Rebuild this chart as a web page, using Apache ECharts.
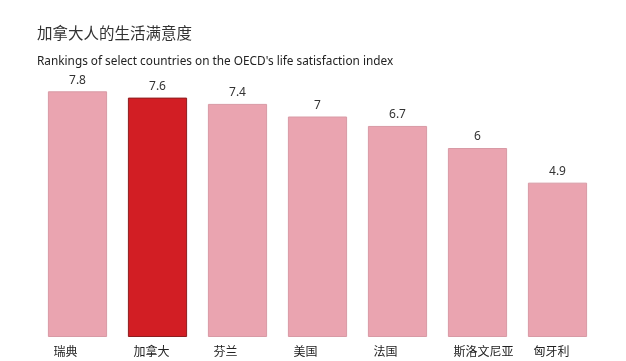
<!DOCTYPE html>
<html><head><meta charset="utf-8">
<script src="https://cdn.jsdelivr.net/npm/echarts@6/dist/echarts.min.js"></script>
<style>html,body{margin:0;padding:0;background:#fff}#c{width:626px;height:361px}</style>
</head><body><div id="c"></div>
<script>
const categories = ['瑞典','加拿大','芬兰','美国','法国','斯洛文尼亚','匈牙利'];
const values = [7.8, 7.6, 7.4, 7, 6.7, 6, 4.9];
const highlight = '加拿大';
const chart = echarts.init(document.getElementById('c'));
chart.setOption({
  backgroundColor: '#fff',
  animation: false,
  title: [
    {text: '加拿大人的生活满意度', left: 32, top: 20, textStyle: {fontFamily: 'Noto Sans CJK SC', fontSize: 15.5, fontWeight: 'normal', color: '#333'}},
    {text: "Rankings of select countries on the OECD's life satisfaction index", left: 32, top: 51, textStyle: {fontFamily: 'Noto Sans', fontSize: 11.8, fontWeight: 'normal', color: '#222'}}
  ],
  grid: {left: 37.5, right: 28.5, top: 22, bottom: 24},
  xAxis: {
    type: 'category', data: categories,
    axisLine: {show: false}, axisTick: {show: false},
    axisLabel: {
      interval: 0, margin: 8, color: '#222', fontFamily: 'Noto Sans CJK SC', fontSize: 12,
      formatter: v => '{a|' + v + '}',
      rich: {a: {width: 48, align: 'left', fontFamily: 'Noto Sans CJK SC', fontSize: 12, color: '#222'}}
    }
  },
  yAxis: {type: 'value', min: 0, max: 10, show: false, splitLine: {show: false}},
  series: [{
    type: 'bar', barCategoryGap: '26%',
    data: values.map((v, i) => ({
      value: v,
      itemStyle: categories[i] === highlight
        ? {color: '#d21e24', borderColor: '#8e1d1f', borderWidth: 1}
        : {color: '#eaa4b0', borderColor: '#d89aa5', borderWidth: 1}
    })),
    label: {show: true, position: 'top', distance: 5, color: '#333', fontFamily: 'Noto Sans', fontSize: 12}
  }]
});
</script></body></html>
